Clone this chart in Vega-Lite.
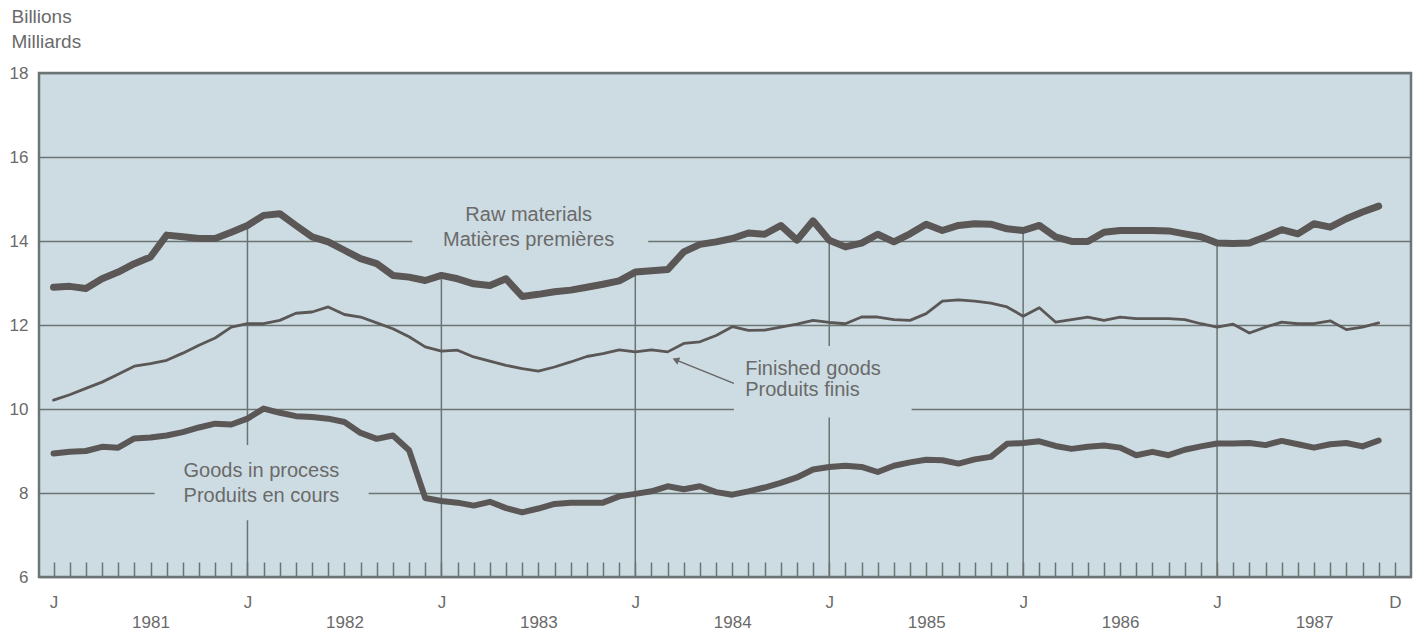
{
  "$schema": "https://vega.github.io/schema/vega-lite/v6.json",
  "width": 1372,
  "height": 504,
  "autosize": {"type": "none"},
  "padding": {"left": 39, "top": 73, "right": 11, "bottom": 56},
  "background": "#ffffff",
  "config": {
    "view": {"fill": "#cddce2", "stroke": "#6d7676", "strokeWidth": 2.5},
    "font": "Liberation Sans"
  },
  "datasets": {
    "inv": [
      {"month": 0, "raw": 12.90, "finished": 10.21, "process": 8.94},
      {"month": 1, "raw": 12.92, "finished": 10.34, "process": 8.98},
      {"month": 2, "raw": 12.87, "finished": 10.49, "process": 9.00},
      {"month": 3, "raw": 13.10, "finished": 10.64, "process": 9.10},
      {"month": 4, "raw": 13.26, "finished": 10.83, "process": 9.08},
      {"month": 5, "raw": 13.46, "finished": 11.02, "process": 9.30},
      {"month": 6, "raw": 13.62, "finished": 11.08, "process": 9.32},
      {"month": 7, "raw": 14.14, "finished": 11.16, "process": 9.37},
      {"month": 8, "raw": 14.10, "finished": 11.33, "process": 9.45},
      {"month": 9, "raw": 14.06, "finished": 11.52, "process": 9.56},
      {"month": 10, "raw": 14.06, "finished": 11.69, "process": 9.65},
      {"month": 11, "raw": 14.21, "finished": 11.95, "process": 9.63},
      {"month": 12, "raw": 14.37, "finished": 12.03, "process": 9.77},
      {"month": 13, "raw": 14.61, "finished": 12.03, "process": 10.01},
      {"month": 14, "raw": 14.65, "finished": 12.11, "process": 9.91},
      {"month": 15, "raw": 14.37, "finished": 12.28, "process": 9.83},
      {"month": 16, "raw": 14.10, "finished": 12.31, "process": 9.81},
      {"month": 17, "raw": 13.98, "finished": 12.43, "process": 9.77},
      {"month": 18, "raw": 13.78, "finished": 12.25, "process": 9.69},
      {"month": 19, "raw": 13.58, "finished": 12.19, "process": 9.43},
      {"month": 20, "raw": 13.46, "finished": 12.05, "process": 9.29},
      {"month": 21, "raw": 13.18, "finished": 11.91, "process": 9.37},
      {"month": 22, "raw": 13.14, "finished": 11.72, "process": 9.02},
      {"month": 23, "raw": 13.06, "finished": 11.48, "process": 7.88},
      {"month": 24, "raw": 13.18, "finished": 11.38, "process": 7.81},
      {"month": 25, "raw": 13.10, "finished": 11.40, "process": 7.77},
      {"month": 26, "raw": 12.98, "finished": 11.24, "process": 7.70},
      {"month": 27, "raw": 12.94, "finished": 11.14, "process": 7.79},
      {"month": 28, "raw": 13.10, "finished": 11.04, "process": 7.64},
      {"month": 29, "raw": 12.68, "finished": 10.96, "process": 7.54},
      {"month": 30, "raw": 12.73, "finished": 10.90, "process": 7.63},
      {"month": 31, "raw": 12.79, "finished": 11.00, "process": 7.74},
      {"month": 32, "raw": 12.83, "finished": 11.12, "process": 7.77},
      {"month": 33, "raw": 12.90, "finished": 11.25, "process": 7.77},
      {"month": 34, "raw": 12.97, "finished": 11.32, "process": 7.77},
      {"month": 35, "raw": 13.05, "finished": 11.41, "process": 7.92},
      {"month": 36, "raw": 13.26, "finished": 11.36, "process": 7.98},
      {"month": 37, "raw": 13.29, "finished": 11.41, "process": 8.04},
      {"month": 38, "raw": 13.32, "finished": 11.36, "process": 8.16},
      {"month": 39, "raw": 13.74, "finished": 11.56, "process": 8.09},
      {"month": 40, "raw": 13.92, "finished": 11.60, "process": 8.16},
      {"month": 41, "raw": 13.98, "finished": 11.75, "process": 8.02},
      {"month": 42, "raw": 14.06, "finished": 11.96, "process": 7.96},
      {"month": 43, "raw": 14.19, "finished": 11.87, "process": 8.04},
      {"month": 44, "raw": 14.16, "finished": 11.88, "process": 8.13},
      {"month": 45, "raw": 14.37, "finished": 11.95, "process": 8.24},
      {"month": 46, "raw": 14.02, "finished": 12.02, "process": 8.37},
      {"month": 47, "raw": 14.48, "finished": 12.11, "process": 8.56},
      {"month": 48, "raw": 14.02, "finished": 12.06, "process": 8.62},
      {"month": 49, "raw": 13.86, "finished": 12.03, "process": 8.65},
      {"month": 50, "raw": 13.95, "finished": 12.19, "process": 8.62},
      {"month": 51, "raw": 14.16, "finished": 12.19, "process": 8.50},
      {"month": 52, "raw": 13.98, "finished": 12.13, "process": 8.65},
      {"month": 53, "raw": 14.17, "finished": 12.11, "process": 8.73},
      {"month": 54, "raw": 14.40, "finished": 12.27, "process": 8.79},
      {"month": 55, "raw": 14.25, "finished": 12.57, "process": 8.78},
      {"month": 56, "raw": 14.37, "finished": 12.60, "process": 8.70},
      {"month": 57, "raw": 14.41, "finished": 12.57, "process": 8.80},
      {"month": 58, "raw": 14.40, "finished": 12.52, "process": 8.86},
      {"month": 59, "raw": 14.29, "finished": 12.43, "process": 9.17},
      {"month": 60, "raw": 14.25, "finished": 12.21, "process": 9.19},
      {"month": 61, "raw": 14.37, "finished": 12.41, "process": 9.23},
      {"month": 62, "raw": 14.10, "finished": 12.07, "process": 9.12},
      {"month": 63, "raw": 13.99, "finished": 12.13, "process": 9.05},
      {"month": 64, "raw": 13.99, "finished": 12.19, "process": 9.10},
      {"month": 65, "raw": 14.21, "finished": 12.11, "process": 9.13},
      {"month": 66, "raw": 14.25, "finished": 12.19, "process": 9.08},
      {"month": 67, "raw": 14.25, "finished": 12.15, "process": 8.90},
      {"month": 68, "raw": 14.25, "finished": 12.15, "process": 8.98},
      {"month": 69, "raw": 14.24, "finished": 12.15, "process": 8.90},
      {"month": 70, "raw": 14.17, "finished": 12.13, "process": 9.03},
      {"month": 71, "raw": 14.10, "finished": 12.03, "process": 9.11},
      {"month": 72, "raw": 13.95, "finished": 11.95, "process": 9.18},
      {"month": 73, "raw": 13.94, "finished": 12.02, "process": 9.18},
      {"month": 74, "raw": 13.95, "finished": 11.81, "process": 9.19},
      {"month": 75, "raw": 14.10, "finished": 11.95, "process": 9.14},
      {"month": 76, "raw": 14.27, "finished": 12.07, "process": 9.24},
      {"month": 77, "raw": 14.17, "finished": 12.03, "process": 9.16},
      {"month": 78, "raw": 14.41, "finished": 12.03, "process": 9.08},
      {"month": 79, "raw": 14.33, "finished": 12.10, "process": 9.16},
      {"month": 80, "raw": 14.53, "finished": 11.89, "process": 9.19},
      {"month": 81, "raw": 14.69, "finished": 11.95, "process": 9.11},
      {"month": 82, "raw": 14.83, "finished": 12.05, "process": 9.25}
    ],
    "masks": [
      {"m1": 22.2, "m2": 36.8, "v1": 13.8, "v2": 14.25},
      {"m1": 6.25, "m2": 19.5, "v1": 7.35, "v2": 9.14},
      {"m1": 42.1, "m2": 53.1, "v1": 9.8, "v2": 11.5}
    ],
    "labelsCenter": [
      {"month": 29.4, "value": 14.61, "text": "Raw materials"},
      {"month": 29.4, "value": 14.02, "text": "Matières premières"},
      {"month": 12.86, "value": 8.52, "text": "Goods in process"},
      {"month": 12.86, "value": 7.94, "text": "Produits en cours"}
    ],
    "labelsLeft": [
      {"month": 42.8, "value": 10.95, "text": "Finished goods"},
      {"month": 42.8, "value": 10.45, "text": "Produits finis"}
    ],
    "arrow": [
      {"m1": 42.1, "v1": 10.61, "m2": 38.5, "v2": 11.17}
    ]
  },
  "layer": [
    {
      "data": {"name": "inv"},
      "transform": [{"filter": "datum.month % 12 == 0 && datum.month > 0"}],
      "mark": {"type": "rule", "color": "#6b7373", "strokeWidth": 1.5},
      "encoding": {
        "x": {
          "field": "month",
          "type": "quantitative",
          "scale": {"domain": [-0.9, 84], "nice": false, "zero": false},
          "axis": {
            "values": [0,1,2,3,4,5,6,7,8,9,10,11,12,13,14,15,16,17,18,19,20,21,22,23,24,25,26,27,28,29,30,31,32,33,34,35,36,37,38,39,40,41,42,43,44,45,46,47,48,49,50,51,52,53,54,55,56,57,58,59,60,61,62,63,64,65,66,67,68,69,70,71,72,73,74,75,76,77,78,79,80,81,82,83],
            "tickCount": 200,
            "title": null,
            "domain": false,
            "grid": false,
            "ticks": true,
            "tickSize": -15,
            "tickColor": "#6b7373",
            "tickWidth": 1.5,
            "labelExpr": "datum.value == 83 ? 'D' : (datum.value % 12 == 0 ? 'J' : (datum.value % 12 == 6 ? ['', '' + (1981 + floor(datum.value / 12))] : ''))",
            "labelBaseline": "top",
            "labelPadding": 32,
            "labelFontSize": 17,
            "labelColor": "#6a6a6a",
            "labelLineHeight": 20,
            "labelOverlap": false,
            "labelBound": false,
            "labelFlush": false
          }
        },
        "y": {
          "field": "raw",
          "type": "quantitative",
          "scale": {"domain": [6, 18], "nice": false, "zero": false},
          "axis": {
            "values": [6, 8, 10, 12, 14, 16, 18],
            "title": ["Billions", "Milliards"],
            "titleAngle": 0,
            "titleAlign": "left",
            "titleBaseline": "alphabetic",
            "titleX": -28,
            "titleY": -51,
            "titleFontSize": 19,
            "titleFontWeight": "normal",
            "titleColor": "#6a6a6a",
            "titleLineHeight": 25,
            "domain": false,
            "ticks": false,
            "grid": true,
            "gridColor": "#6b7373",
            "gridWidth": 1.5,
            "labelPadding": 11,
            "labelFontSize": 17,
            "labelColor": "#6a6a6a"
          }
        },
        "y2": {"datum": 6}
      }
    },
    {
      "data": {"name": "masks"},
      "mark": {"type": "rect", "color": "#cddce2"},
      "encoding": {
        "x": {"field": "m1", "type": "quantitative"},
        "x2": {"field": "m2"},
        "y": {"field": "v1", "type": "quantitative"},
        "y2": {"field": "v2"}
      }
    },
    {
      "data": {"name": "inv"},
      "mark": {"type": "line", "color": "#5a5756", "strokeWidth": 2.8, "strokeJoin": "round", "strokeCap": "round"},
      "encoding": {
        "x": {"field": "month", "type": "quantitative"},
        "y": {"field": "finished", "type": "quantitative"}
      }
    },
    {
      "data": {"name": "inv"},
      "mark": {"type": "line", "color": "#5a5756", "strokeWidth": 6, "strokeJoin": "round", "strokeCap": "round"},
      "encoding": {
        "x": {"field": "month", "type": "quantitative"},
        "y": {"field": "process", "type": "quantitative"}
      }
    },
    {
      "data": {"name": "inv"},
      "mark": {"type": "line", "color": "#5a5756", "strokeWidth": 7, "strokeJoin": "round", "strokeCap": "round"},
      "encoding": {
        "x": {"field": "month", "type": "quantitative"},
        "y": {"field": "raw", "type": "quantitative"}
      }
    },
    {
      "data": {"name": "labelsCenter"},
      "mark": {"type": "text", "align": "center", "baseline": "middle", "fontSize": 20, "color": "#6a6a6a"},
      "encoding": {
        "x": {"field": "month", "type": "quantitative"},
        "y": {"field": "value", "type": "quantitative"},
        "text": {"field": "text"}
      }
    },
    {
      "data": {"name": "labelsLeft"},
      "mark": {"type": "text", "align": "left", "baseline": "middle", "fontSize": 20, "color": "#6a6a6a"},
      "encoding": {
        "x": {"field": "month", "type": "quantitative"},
        "y": {"field": "value", "type": "quantitative"},
        "text": {"field": "text"}
      }
    },
    {
      "data": {"name": "arrow"},
      "mark": {"type": "rule", "color": "#666666", "strokeWidth": 1.5},
      "encoding": {
        "x": {"field": "m1", "type": "quantitative"},
        "y": {"field": "v1", "type": "quantitative"},
        "x2": {"field": "m2"},
        "y2": {"field": "v2"}
      }
    },
    {
      "data": {"name": "arrow"},
      "mark": {"type": "point", "shape": "triangle-up", "angle": 292, "size": 60, "filled": true, "color": "#666666", "opacity": 1},
      "encoding": {
        "x": {"field": "m2", "type": "quantitative"},
        "y": {"field": "v2", "type": "quantitative"}
      }
    }
  ]
}
